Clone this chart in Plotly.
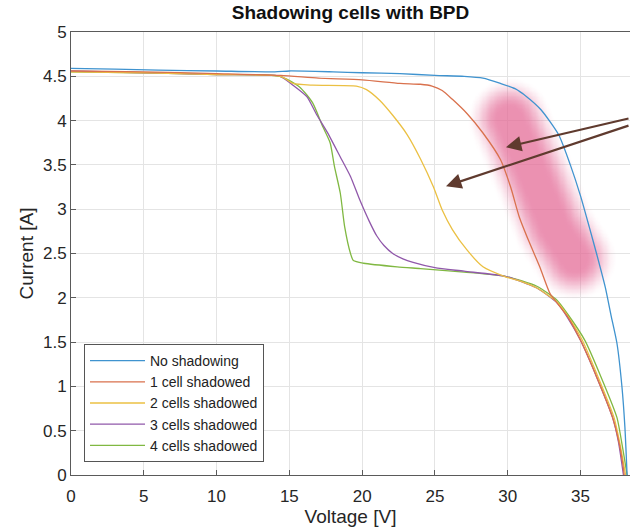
import numpy as np
import plotly.graph_objects as go

# ---------------- data ----------------
series_names = ["No shadowing", "1 cell shadowed", "2 cells shadowed",
                "3 cells shadowed", "4 cells shadowed"]
series_colors = ["#3f93cf", "#d9714d", "#ebc043", "#9058aa", "#80b842"]

v_none = [0, 3, 6, 10, 14, 15, 18, 20, 22.6, 25, 27, 28.3, 29.5, 30.5, 31.3,
          32.3, 33.5, 34.3, 35.0, 35.6, 36.1, 36.7, 37.1, 37.5, 37.85, 38.05, 38.2]
i_none = [4.59, 4.58, 4.57, 4.56, 4.55, 4.56, 4.55, 4.54, 4.53, 4.51, 4.50, 4.48,
          4.42, 4.36, 4.27, 4.12, 3.84, 3.50, 3.15, 2.80, 2.50, 2.12, 1.80, 1.49,
          0.99, 0.54, 0.0]

v_one = [0, 5, 10, 14.4, 17, 20, 22.6, 24.0, 24.8, 25.5, 26.2, 27.2, 28.3, 29.5,
         30.2, 30.8, 31.5, 32.2, 32.9, 33.4, 34.1, 35.0, 36.1, 37.2, 37.6, 37.9, 38.0]
i_one = [4.56, 4.55, 4.53, 4.51, 4.48, 4.46, 4.42, 4.41, 4.39, 4.34, 4.24, 4.08,
         3.86, 3.56, 3.25, 2.91, 2.62, 2.35, 2.05, 1.94, 1.79, 1.52, 1.11, 0.65,
         0.40, 0.13, 0.0]

v_two = [0, 5, 10, 14.4, 15.25, 16.6, 19.6, 20.3, 21.2, 22.1, 23.1, 24.0, 24.9,
         25.5, 26.2, 27.2, 28.3, 29.8, 31.0, 32.0, 33.4, 34.1, 35.1, 36.2, 37.3,
         37.7, 38.1]
i_two = [4.55, 4.54, 4.52, 4.50, 4.42, 4.40, 4.39, 4.35, 4.23, 4.06, 3.84, 3.57,
         3.25, 2.99, 2.77, 2.54, 2.35, 2.24, 2.18, 2.11, 1.95, 1.80, 1.53, 1.11,
         0.65, 0.36, 0.0]

v_three = [0, 5, 10, 14.35, 15.25, 16.2, 16.9, 17.6, 18.5, 19.2, 19.85, 20.5,
           21.0, 21.5, 22.1, 22.8, 23.5, 25.0, 27.0, 29.9, 32.0, 33.4, 34.1,
           35.0, 36.1, 37.2, 37.6, 37.95]
i_three = [4.56, 4.54, 4.52, 4.50, 4.40, 4.27, 4.06, 3.87, 3.59, 3.37, 3.10,
           2.86, 2.70, 2.59, 2.50, 2.44, 2.40, 2.34, 2.30, 2.24, 2.11, 1.94,
           1.78, 1.52, 1.11, 0.65, 0.38, 0.0]

v_four = [0, 5, 10, 14.35, 15.7, 16.6, 17.3, 17.8, 18.1, 18.5, 18.8, 19.2,
          19.4, 20.1, 22.4, 24.0, 27.0, 29.9, 32.0, 33.4, 34.1, 35.3, 36.4,
          37.5, 37.9, 38.2]
i_four = [4.55, 4.54, 4.52, 4.50, 4.38, 4.20, 3.93, 3.75, 3.48, 3.18, 2.80,
          2.50, 2.42, 2.39, 2.35, 2.33, 2.29, 2.24, 2.13, 1.97, 1.82, 1.52,
          1.11, 0.65, 0.30, 0.0]

x_ticks = [0, 5, 10, 15, 20, 25, 30, 35]
x_tick_labels = ["0", "5", "10", "15", "20", "25", "30", "35"]
y_ticks = [0, 0.5, 1, 1.5, 2, 2.5, 3, 3.5, 4, 4.5, 5]
y_tick_labels = ["0", "0.5", "1", "1.5", "2", "2.5", "3", "3.5", "4", "4.5", "5"]

# highlight band (annotation geometry, data coords) and arrow tips
band_v = [30.1, 31.80, 33.17, 34.55]
band_i = [4.02, 3.36, 2.80, 2.45]
arrow_tip_v = [29.88, 25.76]
arrow_tip_i = [3.70, 3.26]

# ---------------- layout constants ----------------
W, H = 630, 529
ML, MR, MT, MB = 71, 0, 32, 54
X_RANGE = [0, 38.4]
Y_RANGE = [0, 5]
plot_w = W - ML - MR
plot_h = H - MT - MB
sx = plot_w / (X_RANGE[1] - X_RANGE[0])
sy = plot_h / (Y_RANGE[1] - Y_RANGE[0])

fig = go.Figure()

# ---- soft pink highlight (blurred band) ----
gx = np.arange(25.5, 38.41, 0.08)
gy = np.arange(1.4, 4.95, 0.015)
GX, GY = np.meshgrid(gx, gy)
PX, PY = GX * sx, -GY * sy
bx = np.array(band_v) * sx
by = -np.array(band_i) * sy
dist = np.full(PX.shape, np.inf)
for k in range(len(bx) - 1):
    ax_, ay_ = bx[k], by[k]
    dx, dy = bx[k + 1] - ax_, by[k + 1] - ay_
    t = ((PX - ax_) * dx + (PY - ay_) * dy) / (dx * dx + dy * dy)
    t = np.clip(t, 0, 1)
    d = np.hypot(PX - (ax_ + t * dx), PY - (ay_ + t * dy))
    dist = np.minimum(dist, d)
hw, soft = 27.0, 16.0
tt = np.clip((hw + soft - dist) / (2 * soft), 0, 1)
alpha = tt * tt * (3 - 2 * tt)
alpha[alpha <= 0.001] = np.nan
fig.add_trace(go.Heatmap(
    x=gx, y=gy, z=alpha, zmin=0, zmax=1, zsmooth="best",
    colorscale=[[0, "rgba(228,106,150,0)"], [1, "rgba(228,106,150,0.74)"]],
    showscale=False, hoverinfo="skip", showlegend=False))

# ---- curves ----
all_v = [v_none, v_one, v_two, v_three, v_four]
all_i = [i_none, i_one, i_two, i_three, i_four]
draw_order = [4, 3, 2, 1, 0]
for idx in draw_order:
    fig.add_trace(go.Scatter(
        x=all_v[idx], y=all_i[idx], mode="lines", name=series_names[idx],
        line=dict(color=series_colors[idx], width=1.3, shape="spline", smoothing=0.6),
        legendrank=idx + 1))

# ---- arrows ----
arrow_tails = [(134, -29), (194, -61)]
for k in range(2):
    fig.add_annotation(
        x=arrow_tip_v[k], y=arrow_tip_i[k], xref="x", yref="y",
        ax=arrow_tails[k][0], ay=arrow_tails[k][1], text="",
        showarrow=True, arrowhead=2, arrowsize=1.4, arrowwidth=2.2,
        arrowcolor="#5f3a2e", standoff=0)

tick_font = dict(family="Liberation Sans, Arial, sans-serif", size=17, color="#262626")
title_font = dict(family="Liberation Sans, Arial, sans-serif", size=19, color="#262626")
fig.update_layout(
    width=W, height=H,
    margin=dict(l=ML, r=MR, t=MT, b=MB, autoexpand=False),
    paper_bgcolor="white", plot_bgcolor="white",
    font=dict(family="Liberation Sans, Arial, sans-serif", color="#262626"),
    title=dict(text="<b>Shadowing cells with BPD</b>", x=(ML + plot_w / 2) / W,
               xanchor="center", xref="container",
               y=1 - 12 / H, yanchor="middle",
               font=dict(family="Liberation Sans, Arial, sans-serif", size=19, color="#111")),
    showlegend=True,
    legend=dict(x=13 / plot_w, y=13 / plot_h, xanchor="left", yanchor="bottom",
                bgcolor="white", bordercolor="#555", borderwidth=1,
                font=dict(family="Liberation Sans, Arial, sans-serif", size=14, color="#222"),
                traceorder="normal", itemwidth=55),
)
fig.update_xaxes(
    range=X_RANGE, tickvals=x_ticks, ticktext=x_tick_labels,
    showgrid=True, gridcolor="#e4e4e4", gridwidth=1, zeroline=False,
    showline=True, linecolor="#5a5a5a", linewidth=1, mirror=True,
    ticks="inside", ticklen=5, tickcolor="#5a5a5a", tickfont=tick_font,
    ticklabelstandoff=6, automargin=False,
    title=dict(text="Voltage [V]", font=title_font, standoff=1),
)
fig.update_yaxes(
    range=Y_RANGE, tickvals=y_ticks, ticktext=y_tick_labels,
    showgrid=True, gridcolor="#e4e4e4", gridwidth=1, zeroline=False,
    showline=True, linecolor="#5a5a5a", linewidth=1, mirror=True,
    ticks="inside", ticklen=5, tickcolor="#5a5a5a", tickfont=tick_font,
    automargin=False,
    title=dict(text="Current [A]", font=title_font, standoff=4),
)

fig.write_html("out.html", config={"displayModeBar": False},
               post_script="document.body.style.margin='0';document.body.style.overflow='hidden';")
